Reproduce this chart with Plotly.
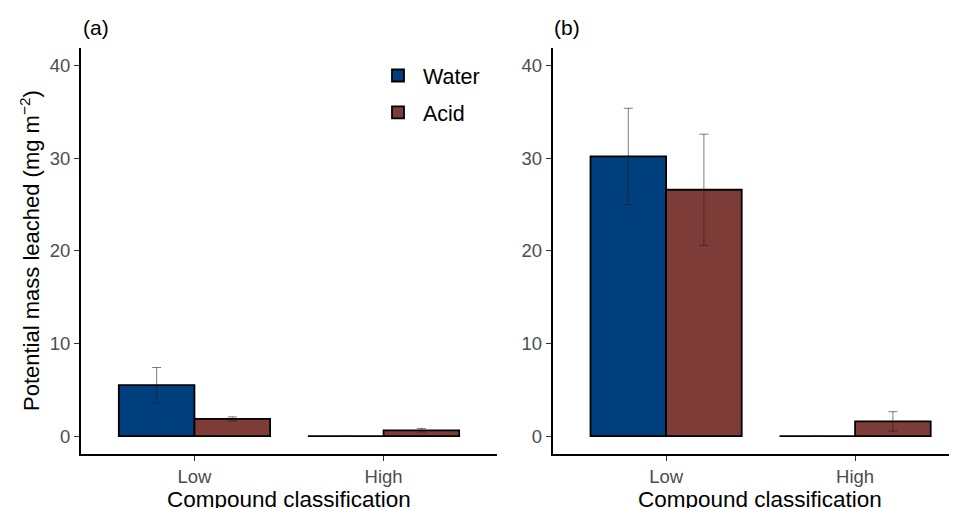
import plotly.graph_objects as go

categories = ["Low", "High"]
water_a = [5.5, 0.0]
water_a_err = [1.9, 0.0]
acid_a = [1.85, 0.62]
acid_a_err = [0.22, 0.2]
water_b = [30.2, 0.0]
water_b_err = [5.2, 0.0]
acid_b = [26.6, 1.58]
acid_b_err = [6.0, 1.05]
y_ticks = [0, 10, 20, 30, 40]

W, H = 957, 508
OFF = 8  # page body margin shift
C_WATER = "#003F7D"
C_ACID = "#7D3C38"
FONT = "Liberation Sans, Arial, Helvetica, sans-serif"

def px_x(p):
    return (p - OFF) / W

def px_y(p):
    return 1 - (p - OFF) / H

err_style = dict(type="data", visible=True, color="rgba(30,30,30,0.65)", thickness=0.9, width=4.5)
line_style = dict(color="#000000", width=1.8)

fig = go.Figure()

fig.add_trace(go.Bar(x=categories, y=water_a, name="Water", marker=dict(color=C_WATER, line=line_style),
                     error_y=dict(array=water_a_err, **err_style), xaxis="x", yaxis="y",
                     legendgroup="w", offsetgroup="w"))
fig.add_trace(go.Bar(x=categories, y=acid_a, name="Acid", marker=dict(color=C_ACID, line=line_style),
                     error_y=dict(array=acid_a_err, **err_style), xaxis="x", yaxis="y",
                     legendgroup="a", offsetgroup="a"))
fig.add_trace(go.Bar(x=categories, y=water_b, name="Water", marker=dict(color=C_WATER, line=line_style),
                     error_y=dict(array=water_b_err, **err_style), xaxis="x2", yaxis="y2",
                     legendgroup="w", offsetgroup="w", showlegend=False))
fig.add_trace(go.Bar(x=categories, y=acid_b, name="Acid", marker=dict(color=C_ACID, line=line_style),
                     error_y=dict(array=acid_b_err, **err_style), xaxis="x2", yaxis="y2",
                     legendgroup="a", offsetgroup="a", showlegend=False))

yrange = [-1.94, 41.91]
ydom = [px_y(454), px_y(48)]

axis_common = dict(showline=True, linecolor="#000000", linewidth=1.8, ticks="outside", ticklen=5,
                   tickcolor="#333333", tickwidth=1.2, showgrid=False, zeroline=False,
                   tickfont=dict(family=FONT, size=18.5, color="#4D4D4D"))

x2_right_px = W + OFF
fig.update_layout(
    width=W, height=H,
    margin=dict(l=0, r=0, t=0, b=0),
    paper_bgcolor="white", plot_bgcolor="white",
    barmode="group", bargap=0.2, bargroupgap=0,
    font=dict(family=FONT, color="#000000"),
    showlegend=True,
    legend=dict(x=px_x(373), y=px_y(55), xanchor="left", yanchor="top",
                font=dict(family=FONT, size=21.5, color="#000000"), itemwidth=40,
                bgcolor="rgba(0,0,0,0)", tracegroupgap=6, traceorder="grouped"),
    xaxis=dict(domain=[px_x(81), px_x(497)], range=[-0.6, 1.6], anchor="y", type="category",
               categoryorder="array", categoryarray=categories, **axis_common),
    yaxis=dict(domain=ydom, range=yrange, anchor="x", tickvals=y_ticks, **axis_common),
    xaxis2=dict(domain=[px_x(552.7), 1.0], range=[-0.6, -0.6 + (x2_right_px - 552.7) / 189.0], anchor="y2",
                type="category", categoryorder="array", categoryarray=categories, **axis_common),
    yaxis2=dict(domain=ydom, range=yrange, anchor="x2", tickvals=y_ticks, **axis_common),
    annotations=[
        dict(text="(a)", x=px_x(81), y=px_y(27), xref="paper", yref="paper", xanchor="left",
             yanchor="middle", showarrow=False, font=dict(family=FONT, size=21)),
        dict(text="(b)", x=px_x(552), y=px_y(27), xref="paper", yref="paper", xanchor="left",
             yanchor="middle", showarrow=False, font=dict(family=FONT, size=21)),
        dict(text="Compound classification", x=px_x(289), y=px_y(499), xref="paper", yref="paper",
             xanchor="center", yanchor="middle", showarrow=False, font=dict(family=FONT, size=22.5)),
        dict(text="Compound classification", x=px_x(760), y=px_y(499), xref="paper", yref="paper",
             xanchor="center", yanchor="middle", showarrow=False, font=dict(family=FONT, size=22.5)),
        dict(text="Potential mass leached (mg m<sup>\u22122</sup>)", x=px_x(30), y=px_y(251),
             xref="paper", yref="paper", xanchor="center", yanchor="middle", textangle=-90,
             showarrow=False, font=dict(family=FONT, size=22)),
    ],
)

fig.write_html("out.html")
